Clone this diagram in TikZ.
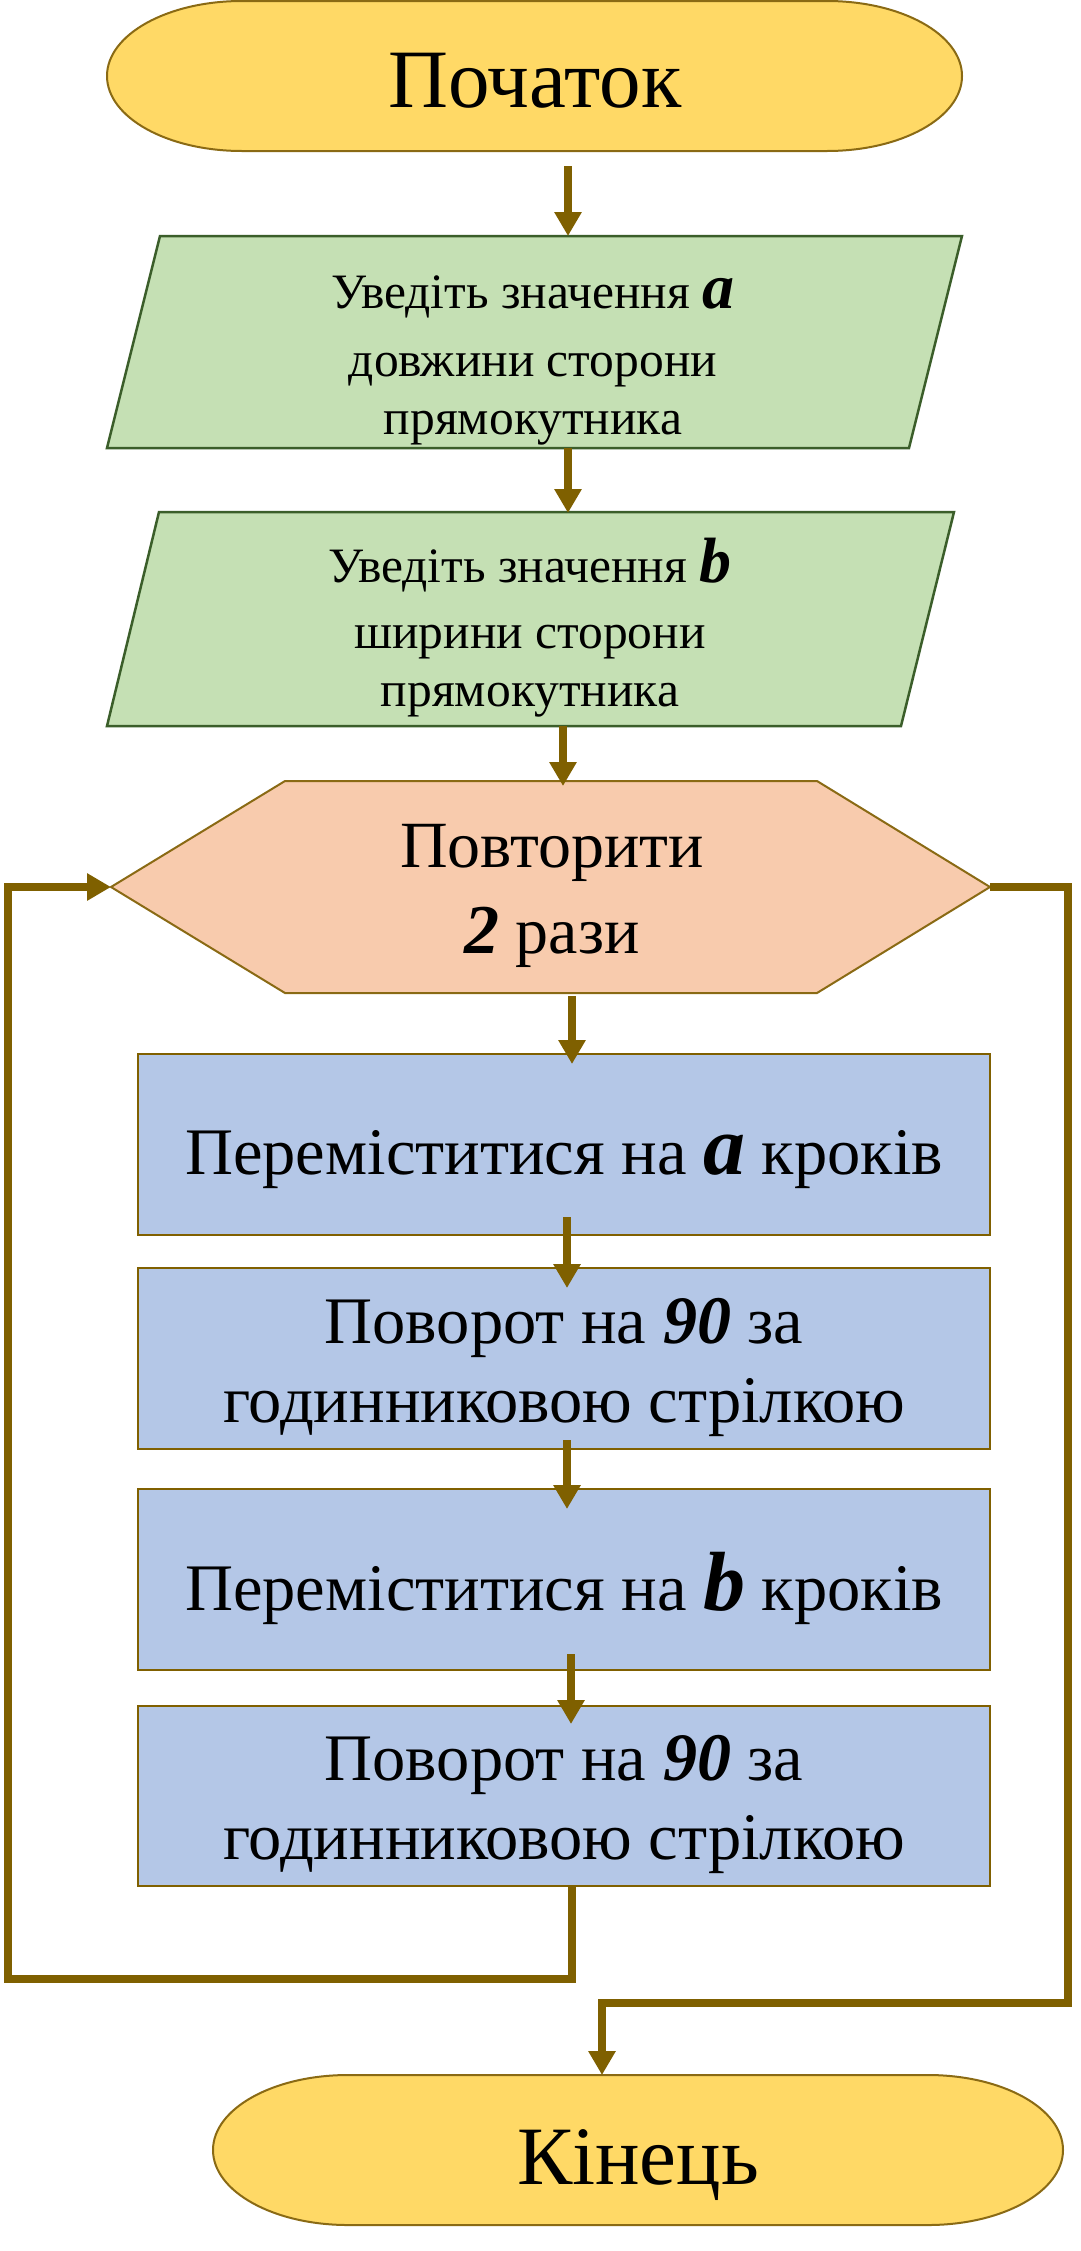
\documentclass[tikz,border=0pt]{standalone}
\usepackage{fontspec}
\setmainfont{Liberation Serif}
\usetikzlibrary{arrows.meta}
\definecolor{arr}{HTML}{7F6000}
\definecolor{termfill}{HTML}{FFD966}
\definecolor{termdraw}{HTML}{8A6A14}
\definecolor{infill}{HTML}{C5E0B4}
\definecolor{indraw}{HTML}{3B5E2A}
\definecolor{hexfill}{HTML}{F8CBAD}
\definecolor{hexdraw}{HTML}{8A6A14}
\definecolor{boxfill}{HTML}{B4C7E7}
\definecolor{boxdraw}{HTML}{806000}
\begin{document}
\begin{tikzpicture}[x=1pt,y=1pt,
  term/.style={fill=termfill, draw=termdraw, line width=2pt},
  inbox/.style={fill=infill, draw=indraw, line width=2.5pt, line join=miter},
  hexbox/.style={fill=hexfill, draw=hexdraw, line width=2pt},
  actbox/.style={fill=boxfill, draw=boxdraw, line width=2pt},
  conn/.style={draw=arr, line width=8pt, line join=miter, -{Triangle[width=26pt,length=24pt]}},
  txt/.style={inner sep=0pt, align=center, anchor=base, text=black}]
\useasboundingbox (0,0) rectangle (1080,-2251);
\fill[white] (0,0) rectangle (1080,-2251);

% shapes
\filldraw[term] (242,-1) -- (827,-1) arc[start angle=90,end angle=-90,x radius=135,y radius=75]
  -- (242,-151) arc[start angle=270,end angle=90,x radius=135,y radius=75] -- cycle;
\filldraw[inbox] (160,-236) -- (962,-236) -- (909,-448) -- (107,-448) -- cycle;
\filldraw[inbox] (159,-512) -- (954,-512) -- (901,-726) -- (107,-726) -- cycle;
\filldraw[hexbox] (285,-781) -- (817,-781) -- (990,-887) -- (817,-993) -- (285,-993) -- (111,-887) -- cycle;
\filldraw[actbox] (138,-1054) rectangle (990,-1235);
\filldraw[actbox] (138,-1268) rectangle (990,-1449);
\filldraw[actbox] (138,-1489) rectangle (990,-1670);
\filldraw[actbox] (138,-1706) rectangle (990,-1886);
\filldraw[term] (348,-2075) -- (928,-2075) arc[start angle=90,end angle=-90,x radius=135,y radius=75]
  -- (348,-2225) arc[start angle=270,end angle=90,x radius=135,y radius=75] -- cycle;

% connection points
\coordinate (startS) at (568,-166);
\coordinate (in1N) at (568,-236);
\coordinate (in1S) at (568,-448);
\coordinate (in2N) at (568,-513);
\coordinate (in2S) at (563,-726);
\coordinate (repN) at (563,-786);
\coordinate (repS) at (572,-996);
\coordinate (repW) at (111,-887);
\coordinate (repE) at (990,-887);
\coordinate (m1N) at (572,-1064);
\coordinate (m1S) at (567,-1217);
\coordinate (t1N) at (567,-1288);
\coordinate (t1S) at (567,-1440);
\coordinate (m2N) at (567,-1509);
\coordinate (m2S) at (571,-1654);
\coordinate (t2N) at (571,-1724);
\coordinate (t2S) at (572,-1886);
\coordinate (endN) at (602,-2075);

% texts (base anchor = last line's baseline)
\node[txt, font=\fontsize{83}{90}\selectfont] (startT) at (535,-107) {Початок};
\node[txt, font=\fontsize{49.5}{58}\selectfont] (in1) at (533,-434)
  {Уведіть значення {\fontsize{64}{58}\selectfont\bfseries\itshape a}\\[10pt]довжини сторони\\прямокутника};
\node[txt, font=\fontsize{49.5}{58}\selectfont] (in2) at (530,-706)
  {Уведіть значення {\fontsize{64}{58}\selectfont\bfseries\itshape b}\\[8pt]ширини сторони\\прямокутника};
\node[txt, font=\fontsize{66}{86}\selectfont] (rep) at (552,-953)
  {Повторити\\{\fontsize{70}{86}\selectfont\bfseries\itshape 2} рази};
\node[txt, font=\fontsize{66.5}{79}\selectfont] (m1) at (564,-1174)
  {Переміститися на {\fontsize{84}{79}\selectfont\bfseries\itshape a} кроків};
\node[txt, font=\fontsize{66.5}{79}\selectfont] (t1) at (564,-1422)
  {Поворот на {\fontsize{68}{79}\selectfont\bfseries\itshape 90} за\\годинниковою стрілкою};
\node[txt, font=\fontsize{66.5}{79}\selectfont] (m2) at (564,-1610)
  {Переміститися на {\fontsize{84}{79}\selectfont\bfseries\itshape b} кроків};
\node[txt, font=\fontsize{66.5}{79}\selectfont] (t2) at (564,-1859)
  {Поворот на {\fontsize{68}{79}\selectfont\bfseries\itshape 90} за\\годинниковою стрілкою};
\node[txt, font=\fontsize{83}{90}\selectfont] (endT) at (638,-2184) {Кінець};

% connectors
\draw[conn] (startS) -- (in1N);
\draw[conn] (in1S) -- (in2N);
\draw[conn] (in2S) -- (repN);
\draw[conn] (repS) -- (m1N);
\draw[conn] (m1S) -- (t1N);
\draw[conn] (t1S) -- (m2N);
\draw[conn] (m2S) -- (t2N);
\draw[conn] (t2S) -- (572,-1979) -- (8,-1979) -- (8,-887) -- (repW);
\draw[conn] (repE) -- (1068,-887) -- (1068,-2003) -- (602,-2003) -- (endN);
\end{tikzpicture}
\end{document}
